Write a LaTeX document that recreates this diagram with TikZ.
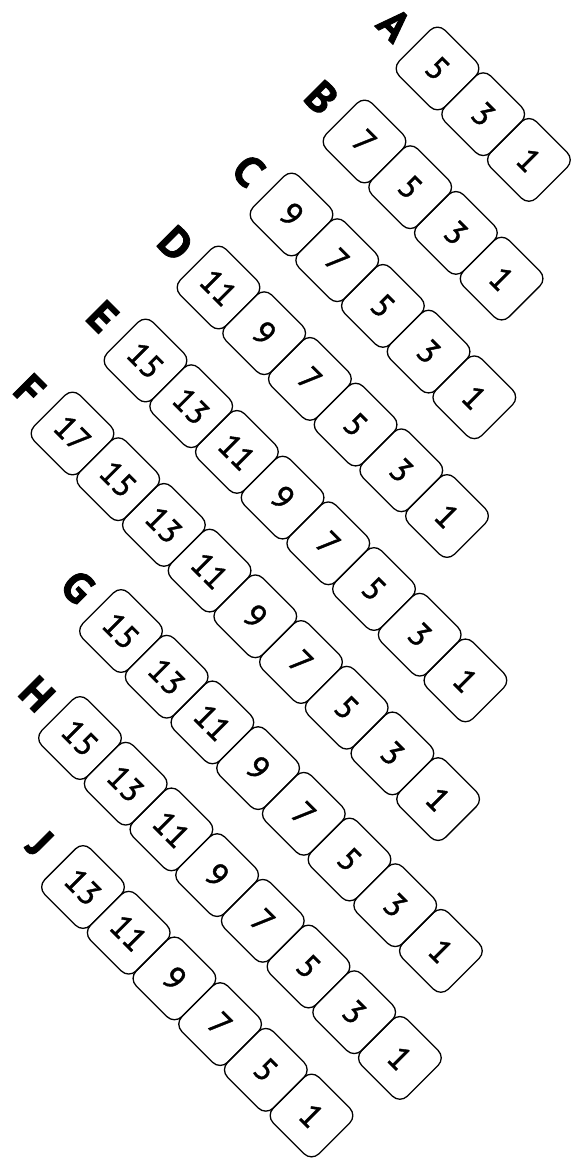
\documentclass[tikz,border=0pt]{standalone}
\usepackage{fontspec}
\setmainfont{PT Sans}
\newfontfamily\digitfont[FakeBold=1.2]{PT Sans}
\newfontfamily\letterfont[FakeBold=2]{PT Sans Bold}
\tikzset{
  cell/.style={draw, line width=1.3pt, rounded corners=10.5pt,
    minimum width=64.6pt, minimum height=64.6pt, inner sep=0pt,
    rotate=-45, font=\digitfont\fontsize{33}{33}\selectfont},
  rowlabel/.style={inner sep=0pt, rotate=-45,
    font=\letterfont\fontsize{43}{43}\selectfont},
}
\newcommand\mkrow[4]{%
  \node[rowlabel] (lab#1) at (#2-43,#3-44) {#1};
  \foreach \v [count=\i from 0] in {#4} {
    \node[cell] (#1\v) at ({#2+45.7*\i},{#3+45.7*\i}) {\v};
  }%
}
\begin{document}
\begin{tikzpicture}[x=1pt,y=-1pt]
\useasboundingbox (0,0) rectangle (570,1158);
\mkrow{A}{437.5}{68.5}{5,3,1}
\mkrow{B}{364.5}{141.5}{7,5,3,1}
\mkrow{C}{291.5}{214.5}{9,7,5,3,1}
\mkrow{D}{218.5}{287.5}{11,9,7,5,3,1}
\mkrow{E}{145.5}{360.5}{15,13,11,9,7,5,3,1}
\mkrow{F}{72.5}{433.5}{17,15,13,11,9,7,5,3,1}
\mkrow{G}{121}{631}{15,13,11,9,7,5,3,1}
\mkrow{H}{80}{738}{15,13,11,9,7,5,3,1}
\mkrow{J}{83}{887}{13,11,9,7,5,1}
\end{tikzpicture}
\end{document}
